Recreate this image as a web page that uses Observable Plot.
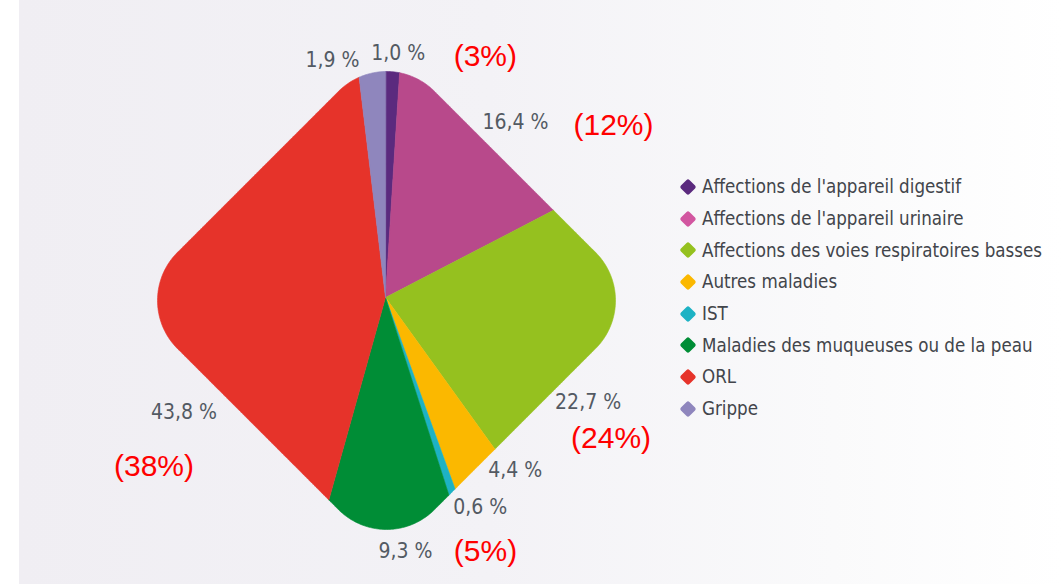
<!DOCTYPE html>
<html>
<head>
<meta charset="utf-8">
<script src="https://cdn.jsdelivr.net/npm/d3@7"></script>
<script src="https://cdn.jsdelivr.net/npm/@observablehq/plot@0.6"></script>
<style>
  body { margin: 0; background: #fff; }
  #wrap { position: relative; width: 1063px; height: 584px; overflow: hidden; background: #fff; }
  #bg { position: absolute; left: 19px; top: 0; right: 0; bottom: 0;
        background: linear-gradient(to right, #f0eef3 0%, #f3f2f6 45%, #fafafb 78%, #ffffff 100%); }
  #chart { position: absolute; left: 0; top: 0; }
  #legend { position: absolute; left: 679px; top: 171px;
            font-family: "DejaVu Sans Condensed", "Liberation Sans Narrow", sans-serif;
            font-size: 18.6px; color: #42454b; }
  .row { height: 31.7px; display: flex; align-items: center; white-space: nowrap; }
  .sw { width: 12px; height: 12px; transform: rotate(45deg); border-radius: 2px;
        margin-left: 3px; margin-right: 8px; flex: none; }
</style>
</head>
<body>
<div id="wrap">
  <div id="bg"></div>
  <div id="chart"></div>
  <div id="legend"></div>
</div>
<script>
// ---- data ----
const categories = [
  "Affections de l'appareil digestif",
  "Affections de l'appareil urinaire",
  "Affections des voies respiratoires basses",
  "Autres maladies",
  "IST",
  "Maladies des muqueuses ou de la peau",
  "ORL",
  "Grippe"
];
const values = [1.0, 16.4, 22.7, 4.4, 0.6, 9.3, 43.8, 1.9];
const valueLabels = ["1,0 %", "16,4 %", "22,7 %", "4,4 %", "0,6 %", "9,3 %", "43,8 %", "1,9 %"];
const colors = ["#5b2a7e", "#b8498b", "#95c11f", "#fbb800", "#1db2c4", "#008d36", "#e6332a", "#8f86bd"];
const legendColors = ["#5b2a7e", "#d256a0", "#95c11f", "#fbb800", "#1db2c4", "#008d36", "#e6332a", "#8f86bd"];
const notes = ["(3%)", "(12%)", "(24%)", "(5%)", "(38%)"];
const noteCategories = [
  "Affections de l'appareil digestif",
  "Affections de l'appareil urinaire",
  "Affections des voies respiratoires basses",
  "Maladies des muqueuses ou de la peau",
  "ORL"
];

// ---- layout (not data) ----
const center = {x: 385, y: 297};                 // pie centre
const shape = {x: 386, y: 300, apex: 229, R: 68}; // rounded diamond outline
// label placement: polar (angle deg clockwise from up, distance from centre)
const labelPolar = [[3, 245], [36.6, 218], [117.3, 228], [143.1, 216], [155.7, 230], [175.5, 255], [240.3, 232], [347.4, 243]];
// note offsets relative to their value label
const noteOffsets = [[87, 4], [98, 3], [23, 36], [80, 0], [-30, 54]];

// ---- geometry ----
const h = (shape.apex - shape.R) / Math.SQRT2 + shape.R;
function inside(px, py) {
  const dx = px - shape.x, dy = py - shape.y;
  const u = (dx + dy) / Math.SQRT2, v = (dy - dx) / Math.SQRT2;
  const qx = Math.abs(u) - (h - shape.R), qy = Math.abs(v) - (h - shape.R);
  const d = Math.hypot(Math.max(qx, 0), Math.max(qy, 0)) + Math.min(Math.max(qx, qy), 0) - shape.R;
  return d <= 0;
}
function boundary(deg) {
  const a = deg * Math.PI / 180, sx = Math.sin(a), sy = -Math.cos(a);
  let lo = 0, hi = 400;
  for (let i = 0; i < 40; i++) {
    const m = (lo + hi) / 2;
    if (inside(center.x + sx * m, center.y + sy * m)) lo = m; else hi = m;
  }
  return {x: center.x + sx * lo, y: center.y + sy * lo};
}

const total = d3.sum(values);
let cum = 0;
const slices = values.map((v, i) => {
  const a0 = cum / total * 360, a1 = (cum + v) / total * 360;
  cum += v;
  const pts = [{x: center.x, y: center.y}];
  const n = Math.max(2, Math.ceil((a1 - a0) / 0.4));
  for (let k = 0; k <= n; k++) pts.push(boundary(a0 + (a1 - a0) * k / n));
  return {cat: categories[i], color: colors[i], pts};
});

const labelData = valueLabels.map((t, i) => {
  const [ang, r] = labelPolar[i];
  const a = ang * Math.PI / 180;
  return {cat: categories[i], text: t, x: center.x + Math.sin(a) * r, y: center.y - Math.cos(a) * r};
});
const noteData = notes.map((t, i) => {
  const l = labelData.find(d => d.cat === noteCategories[i]);
  return {text: t, x: l.x + noteOffsets[i][0], y: l.y + noteOffsets[i][1]};
});

const marks = slices.map(s => Plot.line(s.pts, {
  x: "x", y: "y", fill: s.color, stroke: s.color, strokeWidth: 0.6, curve: "linear-closed"
}));
marks.push(Plot.text(labelData, {
  x: "x", y: "y", text: "text", fill: "#535a63", fontSize: 21,
  fontFamily: "'DejaVu Sans Condensed', 'Liberation Sans Narrow', sans-serif"
}));
marks.push(Plot.text(noteData, {
  x: "x", y: "y", text: "text", fill: "#ff0000", fontSize: 30,
  fontFamily: "'Liberation Sans', Arial, sans-serif"
}));

const chart = Plot.plot({
  width: 1063, height: 584, margin: 0,
  x: {domain: [0, 1063], range: [0, 1063], axis: null},
  y: {domain: [0, 584], range: [0, 584], axis: null},
  style: {background: "transparent", overflow: "visible"},
  marks
});
document.getElementById("chart").appendChild(chart);

// legend
const legend = document.getElementById("legend");
categories.forEach((c, i) => {
  const row = document.createElement("div");
  row.className = "row";
  const sw = document.createElement("span");
  sw.className = "sw";
  sw.style.background = legendColors[i];
  const tx = document.createElement("span");
  tx.textContent = c;
  row.appendChild(sw); row.appendChild(tx);
  legend.appendChild(row);
});
</script>
</body>
</html>
